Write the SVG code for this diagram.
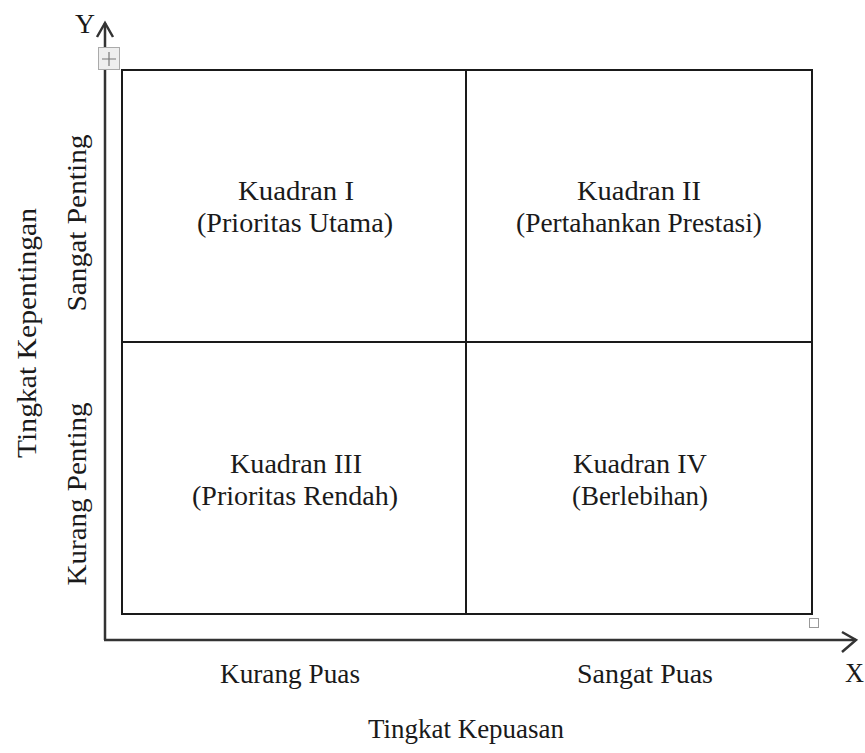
<svg xmlns="http://www.w3.org/2000/svg" width="865" height="753" viewBox="0 0 865 753">
<style>
text{font-size:28px;fill:#1a1a1a}
.c{text-anchor:middle}
.box{fill:none;stroke:#1a1a1a;stroke-width:2}
.axis{fill:none;stroke:#333;stroke-width:2.5}
</style>
<rect width="865" height="753" fill="#fff"/>
<g id="connectors">
<line class="axis" x1="105" y1="640" x2="105" y2="23"/>
<polyline class="axis" points="97,37 105,23 113,37"/>
<line class="axis" x1="104" y1="640" x2="856" y2="640"/>
<polyline class="axis" points="842,632 856,640 842,652"/>
</g>
<g id="grid">
<rect class="box" x="122" y="70" width="690" height="544"/>
<line class="box" x1="466" y1="70" x2="466" y2="614"/>
<line class="box" x1="122" y1="342" x2="812" y2="342"/>
</g>
<g id="handle">
<rect x="98.5" y="47.5" width="21" height="22" fill="#eee" stroke="#aaa" stroke-width="1"/>
<path d="M109 52v14M102 59h14" stroke="#777" stroke-width="1.2" fill="none"/>
<rect x="809.5" y="618.5" width="9" height="9" fill="#fff" stroke="#999" stroke-width="1"/>
</g>
<g font-family="Liberation Serif, Times New Roman, DejaVu Serif, serif">
<g id="q1"><text class="c" x="296" y="200" textLength="116" lengthAdjust="spacingAndGlyphs">Kuadran I</text><text class="c" x="295" y="232" textLength="196" lengthAdjust="spacingAndGlyphs">(Prioritas  Utama)</text></g>
<g id="q2"><text class="c" x="639" y="200" textLength="124" lengthAdjust="spacingAndGlyphs">Kuadran II</text><text class="c" x="639" y="232" textLength="246" lengthAdjust="spacingAndGlyphs">(Pertahankan Prestasi)</text></g>
<g id="q3"><text class="c" x="296" y="473" textLength="132" lengthAdjust="spacingAndGlyphs">Kuadran III</text><text class="c" x="295" y="505" textLength="206" lengthAdjust="spacingAndGlyphs">(Prioritas Rendah)</text></g>
<g id="q4"><text class="c" x="640" y="473" textLength="134" lengthAdjust="spacingAndGlyphs">Kuadran IV</text><text class="c" x="640" y="505" textLength="136" lengthAdjust="spacingAndGlyphs">(Berlebihan)</text></g>
<g id="labels">
<text x="75" y="33" textLength="20" lengthAdjust="spacingAndGlyphs">Y</text>
<text x="845" y="682" textLength="19" lengthAdjust="spacingAndGlyphs">X</text>
<text class="c" x="290" y="683" textLength="140" lengthAdjust="spacingAndGlyphs">Kurang Puas</text>
<text class="c" x="645" y="683" textLength="136" lengthAdjust="spacingAndGlyphs">Sangat Puas</text>
<text class="c" x="466" y="738" textLength="196" lengthAdjust="spacingAndGlyphs">Tingkat Kepuasan</text>
<text class="c" transform="translate(86,223) rotate(-90)" textLength="177" lengthAdjust="spacingAndGlyphs">Sangat Penting</text>
<text class="c" transform="translate(86,494) rotate(-90)" textLength="183" lengthAdjust="spacingAndGlyphs">Kurang Penting</text>
<text class="c" transform="translate(36,333) rotate(-90)" textLength="250" lengthAdjust="spacingAndGlyphs">Tingkat Kepentingan</text>
</g>
</g>
</svg>
